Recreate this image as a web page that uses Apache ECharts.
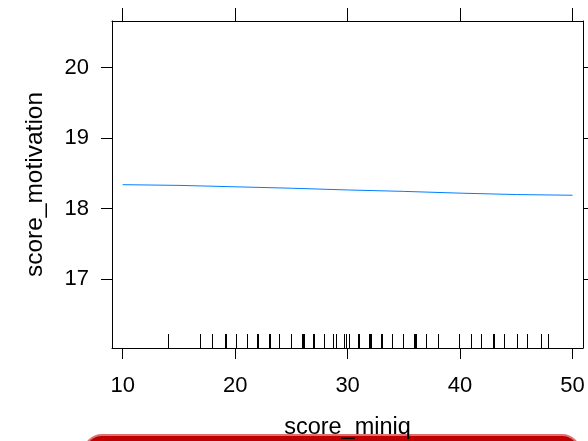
<!DOCTYPE html>
<html>
<head>
<meta charset="utf-8">
<script src="https://cdn.jsdelivr.net/npm/echarts@6/dist/echarts.min.js"></script>
<style>
    html, body { margin: 0; padding: 0; background: #fff; }
    #chart { width: 588px; height: 441px; }
</style>
</head>
<body>
<div id="chart"></div>
<script>
// fitted curve
const curveX = [10, 15, 20, 25, 30, 35, 40, 45, 50];
const curveY = [18.34, 18.33, 18.31, 18.29, 18.265, 18.245, 18.22, 18.2, 18.19];

// rug marks along the x axis (observed score_miniq values)
const rugX = [
    14.05, 16.84, 17.91, 19.1, 19.2, 20.11, 21.09, 21.95, 22.02, 23.03, 23.1,
    23.87, 23.94, 25.0, 25.95, 26.02, 26.08, 26.9, 26.97, 27.91, 28.71, 28.95,
    29.69, 29.9, 30.13, 30.9, 30.97, 31.93, 32.0, 32.05, 32.97, 33.04, 33.96,
    34.94, 35.93, 36.0, 36.05, 36.96, 38.0, 39.9, 40.97, 41.86, 42.9, 42.98,
    43.94, 45.07, 45.93, 47.2, 47.85
];

const xTicks = [10, 20, 30, 40, 50];
const yTicks = [17, 18, 19, 20];

const xMin = 9.05, xMax = 50.93;
const yMin = 16.025, yMax = 20.66;

const chart = echarts.init(document.getElementById('chart'));
const fontFamily = 'Liberation Sans, Arial, sans-serif';
const lineCol = '#000';

const axisCommon = {
    type: 'value',
    axisLine: { show: true, lineStyle: { color: lineCol, width: 1 } },
    axisTick: { show: true, inside: false, length: 11, lineStyle: { color: lineCol } },
    splitLine: { show: false }
};

chart.setOption({
    animation: false,
    backgroundColor: '#fff',
    grid: { left: 112, right: 5, top: 21, bottom: 93, containLabel: false, outerBoundsMode: 'none' },
    xAxis: [
        Object.assign({}, axisCommon, {
            position: 'bottom', min: xMin, max: xMax,
            axisTick: Object.assign({}, axisCommon.axisTick, { customValues: xTicks }),
            axisLabel: { customValues: xTicks, color: '#000', fontSize: 22, fontFamily: fontFamily, margin: 27 },
            name: 'score_miniq', nameLocation: 'middle', nameGap: 68,
            nameTextStyle: { color: '#000', fontSize: 23.5, fontFamily: fontFamily }
        }),
        Object.assign({}, axisCommon, {
            position: 'top', min: xMin, max: xMax,
            axisTick: Object.assign({}, axisCommon.axisTick, { customValues: xTicks, length: 13 }),
            axisLabel: { show: false }
        })
    ],
    yAxis: [
        Object.assign({}, axisCommon, {
            position: 'left', min: yMin, max: yMax,
            axisTick: Object.assign({}, axisCommon.axisTick, { customValues: yTicks }),
            axisLabel: { customValues: yTicks, color: '#000', fontSize: 22, fontFamily: fontFamily, margin: 23 },
            name: 'score_motivation', nameLocation: 'middle', nameGap: 64,
            nameTextStyle: { color: '#000', fontSize: 24.5, fontFamily: fontFamily }
        }),
        Object.assign({}, axisCommon, {
            position: 'right', min: yMin, max: yMax,
            axisTick: Object.assign({}, axisCommon.axisTick, { customValues: yTicks }),
            axisLabel: { show: false }
        })
    ],
    series: [
        {
            type: 'line',
            data: curveX.map((x, i) => [x, curveY[i]]),
            showSymbol: false,
            smooth: false,
            lineStyle: { color: '#0080ff', width: 1 }
        },
        {
            type: 'custom',
            data: rugX.map(x => [x, yMin]),
            renderItem: (params, api) => {
                const p = api.coord([api.value(0), api.value(1)]);
                const x = Math.round(p[0]) + 0.5;
                return {
                    type: 'line',
                    shape: { x1: x, y1: p[1], x2: x, y2: p[1] - 14 },
                    style: { stroke: '#000', lineWidth: 1 }
                };
            }
        }
    ],
    graphic: [
        {
            type: 'rect',
            shape: { x: 84, y: 435, width: 496, height: 40, r: 18 },
            style: { fill: '#c00000', stroke: '#e07070', lineWidth: 2 }
        }
    ]
});
</script>
</body>
</html>
